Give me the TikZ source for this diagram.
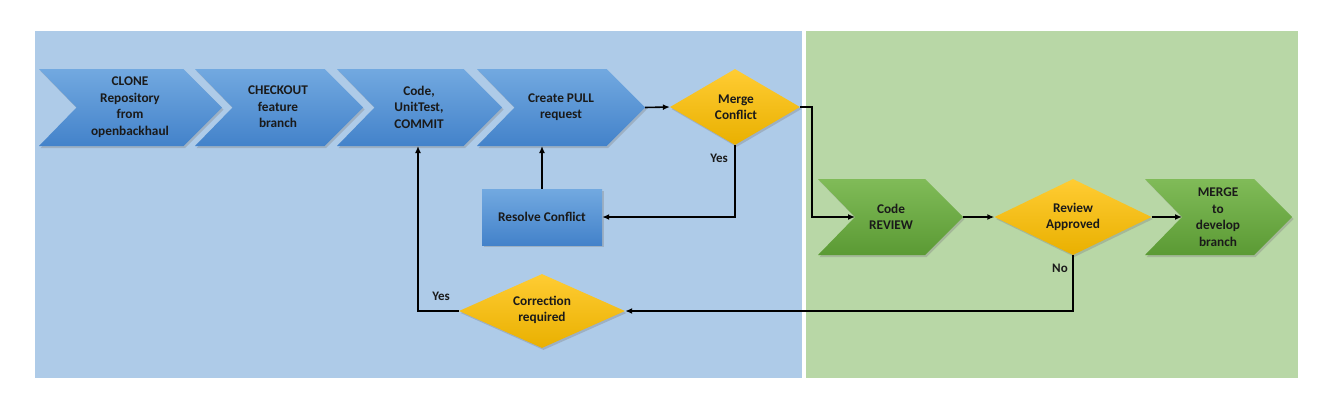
\documentclass[tikz,border=0pt]{standalone}
\usepackage{fontspec}
\setmainfont{Carlito}
\usetikzlibrary{shapes.geometric,arrows.meta,shadows}
\definecolor{panelblue}{HTML}{AECBE8}
\definecolor{panelgreen}{HTML}{B8D7A6}
\definecolor{bluetop}{HTML}{72A9E0}
\definecolor{bluebot}{HTML}{4382CA}
\definecolor{greentop}{HTML}{80BB58}
\definecolor{greenbot}{HTML}{5B9A34}
\definecolor{yeltop}{HTML}{FFCC33}
\definecolor{yelbot}{HTML}{E9B000}
\definecolor{txt}{HTML}{1A1A1A}
\newcommand\chev[6]{%
  \pgfmathsetmacro\chvM{(#4+#5)/2}%
  \pgfmathsetmacro\chvS{#3-(#5-#4)/2}%
  \pgfmathsetmacro\chvN{#2+(#5-#4)/2-1}%
  \path[#6] (#2,#4) -- (\chvS,#4) -- (#3,\chvM) -- (\chvS,#5) -- (#2,#5) -- (\chvN,\chvM) -- cycle;
  \coordinate (#1-tip) at (#3,\chvM);
  \coordinate (#1-notch) at (\chvN,\chvM);
  \coordinate (#1-b) at (#2,#5);
}
\tikzset{
  shad/.style={drop shadow={opacity=0.35,shadow xshift=1.5pt,shadow yshift=-2pt}},
  bluechev/.style={top color=bluetop,bottom color=bluebot,shad},
  greenchev/.style={top color=greentop,bottom color=greenbot,shad},
  lbl/.style={align=center,text=txt,font=\bfseries\fontsize{13.3}{16.5}\selectfont,inner sep=0pt},
  small/.style={text=txt,font=\bfseries\fontsize{13}{15}\selectfont,inner sep=0pt},
  dec/.style={diamond,minimum width=130pt,minimum height=76pt,inner sep=0pt,top color=yeltop,bottom color=yelbot,shad},
  box/.style={rectangle,minimum width=120pt,minimum height=56pt,inner sep=0pt,top color=bluetop,bottom color=bluebot,shad},
  conn/.style={draw=black,line width=1.6pt,-{Latex[length=7pt,width=6pt]}},
  plain/.style={draw=black,line width=1.6pt}
}
\begin{document}
\begin{tikzpicture}[x=1pt,y=-1pt]
\useasboundingbox (0,0) rectangle (1330,413);
\fill[white] (0,0) rectangle (1330,413);
\fill[panelblue] (35,31) rectangle (802,378);
\fill[panelgreen] (806,31) rectangle (1298,378);

% top chevrons
\chev{clone}{39}{222}{69}{146}{bluechev}
\chev{checkout}{195}{363}{69}{146}{bluechev}
\chev{code}{337}{502}{69}{146}{bluechev}
\chev{pull}{477}{645}{69}{146}{bluechev}
% green chevrons
\chev{review}{818}{963}{179}{255}{greenchev}
\chev{merge}{1145}{1292}{179}{255}{greenchev}

% decisions
\node[dec] (mc) at (735,107) {};
\node[dec,minimum width=157pt] (ra) at (1073,217) {};
\node[dec,minimum width=166pt,minimum height=74pt] (corr) at (542,311) {};
\node[box] (rc) at (542,217) {};

% texts
\node[lbl] (t-clone) at (130,107) {CLONE\\Repository\\from\\openbackhaul};
\node[lbl] (t-checkout) at (278,107) {CHECKOUT\\feature\\branch};
\node[lbl] (t-code) at (419,107) {Code,\\UnitTest,\\COMMIT};
\node[lbl] (t-pull) at (561,107) {Create PULL\\request};
\node[lbl] (t-mc) at (736,107) {Merge\\Conflict};
\node[lbl] (t-rc) at (542,217) {Resolve Conflict};
\node[lbl] (t-review) at (891,217) {Code\\REVIEW};
\node[lbl] (t-ra) at (1073,217) {Review\\Approved};
\node[lbl] (t-merge) at (1218,217) {MERGE\\to\\develop\\branch};
\node[lbl] (t-corr) at (542,310) {Correction\\required};

% connectors
\coordinate (j1) at (812,107);
\draw[conn] (pull-tip) -- (mc.west);
\draw[conn] (mc.south) |- (rc.east);
\draw[conn] (rc.north) -- (rc.north |- pull-b);
\draw[conn] (mc.east) -- (j1) |- (review-notch);
\draw[conn] (review-tip) -- (ra.west);
\draw[conn] (ra.east) -- (merge-notch);
\draw[conn] (ra.south) |- (corr.east);
\coordinate (codebot) at (418,146);
\draw[conn] (corr.west) -| (codebot);

% labels
\node[small] (yes1) at (719,158) {Yes};
\node[small] (yes2) at (441,296) {Yes};
\node[small] (no1) at (1060,268) {No};
\end{tikzpicture}
\end{document}
